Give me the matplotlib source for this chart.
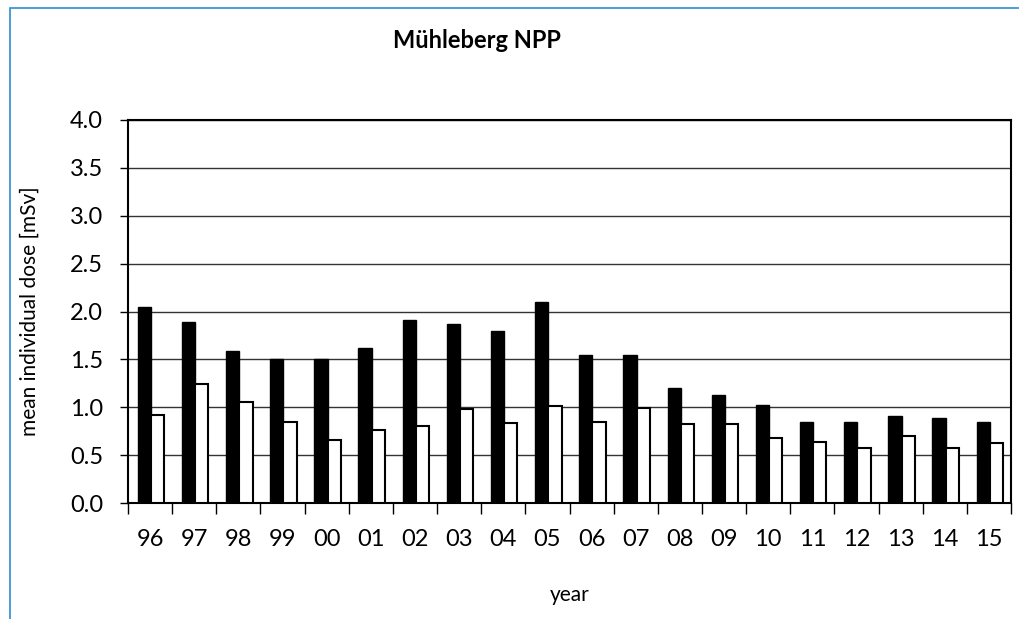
import matplotlib.pyplot as plt
import numpy as np
from matplotlib.patches import Rectangle

years = ["96", "97", "98", "99", "00", "01", "02", "03", "04", "05",
         "06", "07", "08", "09", "10", "11", "12", "13", "14", "15"]
dose_black = [2.05, 1.89, 1.59, 1.50, 1.50, 1.62, 1.91, 1.87, 1.80, 2.10,
              1.55, 1.55, 1.20, 1.13, 1.02, 0.85, 0.85, 0.905, 0.89, 0.85]
dose_white = [0.92, 1.24, 1.06, 0.85, 0.66, 0.76, 0.80, 0.98, 0.84, 1.01,
              0.85, 0.99, 0.83, 0.82, 0.675, 0.64, 0.575, 0.70, 0.575, 0.63]

plt.rcParams['font.family'] = ['Lato', 'DejaVu Sans']

fig = plt.figure(figsize=(10.19, 6.19), dpi=100)
ax = fig.add_axes([128 / 1019, 1 - 503 / 619, 883 / 1019, 383 / 619])

# thin blue frame at the top/left of the picture
fig.patches.append(Rectangle((10 / 1019, -0.1), 1.2, 1 - 8 / 619 + 0.1,
                             transform=fig.transFigure, fill=False,
                             edgecolor='#2a8fd0', linewidth=1.2))

x = np.arange(len(years))
w = 0.3
ax.bar(x - w / 2 + 0.02, dose_black, w, color='black', edgecolor='black', linewidth=1, zorder=3)
ax.bar(x + w / 2 + 0.02, dose_white, w, color='white', edgecolor='black', linewidth=1.5, zorder=3)

ax.set_xlim(-0.5, len(years) - 0.5)
ax.set_ylim(0, 4.0)
ax.set_yticks(np.arange(0, 4.01, 0.5))
ax.set_yticklabels([f"{v:.1f}" for v in np.arange(0, 4.01, 0.5)])
ax.yaxis.grid(True, color='#333333', linewidth=1)
ax.set_axisbelow(True)

ax.set_xticks(x)
ax.set_xticklabels(years)
ax.tick_params(axis='x', length=0, labelsize=17, pad=19)
ax.set_xticks(np.arange(-0.5, len(years), 1), minor=True)
ax.tick_params(axis='x', which='minor', length=8, width=1, direction='out')
ax.tick_params(axis='y', labelsize=17, length=6, width=1, direction='out', pad=12)

for s in ax.spines.values():
    s.set_linewidth(1.5)
    s.set_color('black')

ax.set_ylabel("mean individual dose [mSv]", fontsize=15, labelpad=22)
ax.set_xlabel("year", fontsize=15, labelpad=25)
fig.text(477 / 1019, 1 - 40 / 619, "Mühleberg NPP", fontsize=17, fontweight='bold',
         ha='center', va='center')

fig.savefig("out.png", dpi=100)
